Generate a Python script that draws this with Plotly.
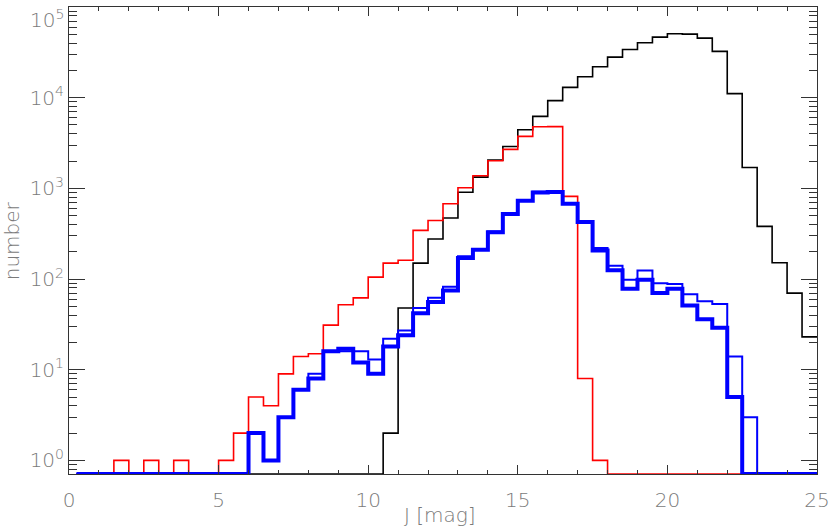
import plotly.graph_objects as go

# Histogram bins: 0.5 mag wide, centres 0.25 ... 24.75
J_CENTERS = [0.25 + 0.5 * i for i in range(50)]
J_RIGHT_EDGE = 25.0

BLACK_COUNTS = [0] * 21 + [
    2, 48, 150, 276, 471, 905, 1330, 2050, 2900, 4430,
    6220, 9290, 12980, 17000, 21900, 28000, 34000, 40300, 46600, 50700,
    50200, 45400, 32400, 11100, 1700, 381, 151, 70, 23]

RED_COUNTS = [0, 0, 0, 1, 0, 1, 0, 1, 0, 0,
              1, 2, 5, 4, 9, 14, 15, 31, 52, 62,
              105, 150, 161, 344, 443, 677, 1015, 1380, 2020, 2690,
              3740, 4790, 4800, 817, 8, 1] + [0] * 14

BLUE_THIN_COUNTS = [0] * 12 + [
    2, 1, 3, 6, 9, 16, 16, 16, 13, 22,
    27, 48, 62, 82, 178, 215, 335, 530, 745, 915,
    925, 690, 432, 220, 140, 98, 124, 90, 88, 68,
    57, 53, 14, 3] + [0] * 4

BLUE_THICK_COUNTS = [0] * 12 + [
    2, 1, 3, 6, 8, 16, 17, 12, 9, 18,
    24, 42, 56, 75, 171, 211, 328, 522, 731, 902,
    912, 677, 426, 206, 125, 78, 98, 70, 78, 51,
    36, 29, 5] + [0] * 5

Y_FLOOR = 10 ** -0.15  # empty bins are drawn on the lower axis

Y_TICKVALS = [1, 10, 100, 1000, 10000, 100000]
Y_TICKTEXT = ["10<sup>0</sup>", "10<sup>1</sup>", "10<sup>2</sup>",
              "10<sup>3</sup>", "10<sup>4</sup>", "10<sup>5</sup>"]
X_TICKVALS = [0, 5, 10, 15, 20, 25]
X_TITLE = "J [mag]"
Y_TITLE = "number"


def steps(counts):
    xs = J_CENTERS + [J_RIGHT_EDGE]
    ys = [max(c, Y_FLOOR) for c in counts]
    ys = ys + [ys[-1]]
    return xs, ys


fig = go.Figure()
series = [
    (BLACK_COUNTS, "#000000", 1.6),
    (RED_COUNTS, "#ff0000", 1.6),
    (BLUE_THIN_COUNTS, "#0000ff", 2.0),
    (BLUE_THICK_COUNTS, "#0000ff", 4.0),
]
for counts, color, width in series:
    xs, ys = steps(counts)
    fig.add_trace(go.Scatter(x=xs, y=ys, mode="lines",
                             line=dict(color=color, width=width, shape="hvh"),
                             showlegend=False, hoverinfo="skip"))

TXT = "#7a7a7a"
AX = "#333333"
FONT = "DejaVu Sans"
TF = dict(family=FONT, size=20, color=TXT, weight=200)

# the top decade label sits just under the frame top (as in the reference)
tick_text_axis = Y_TICKTEXT[:-1] + [""]

fig.update_layout(
    width=830, height=530,
    margin=dict(l=69, r=13, t=7, b=56, autoexpand=False),
    paper_bgcolor="white", plot_bgcolor="white",
    font=TF,
    annotations=[
        dict(text=X_TITLE, xref="paper", yref="paper", x=0.496, y=-0.088,
             xanchor="center", yanchor="middle", showarrow=False, font=TF),
        dict(text=Y_TITLE, xref="paper", yref="paper", x=-0.0765, y=0.50,
             xanchor="center", yanchor="middle", showarrow=False, textangle=-90,
             font=TF),
        dict(text=Y_TICKTEXT[-1], xref="paper", yref="y", x=0, y=5,
             xanchor="right", yanchor="top", xshift=-3, yshift=3,
             showarrow=False, font=TF),
    ],
)
fig.update_xaxes(
    range=[0, 25], tickvals=X_TICKVALS, ticks="inside", ticklen=9, tickwidth=1,
    tickcolor=AX, showline=True, linecolor=AX, linewidth=1, mirror="allticks",
    showgrid=False, zeroline=False, automargin=False, ticklabelstandoff=8,
    ticklabeloverflow="allow",
    minor=dict(dtick=1, ticks="inside", ticklen=4, tickcolor=AX, showgrid=False),
    tickfont=TF,
)
fig.update_yaxes(
    type="log", range=[-0.15, 5.0002], tickvals=Y_TICKVALS, ticktext=tick_text_axis,
    ticks="inside", ticklen=16, tickwidth=1, tickcolor=AX,
    showline=True, linecolor=AX, linewidth=1, mirror="allticks",
    showgrid=False, zeroline=False, automargin=False, ticklabeloverflow="allow",
    minor=dict(dtick="D1", ticks="inside", ticklen=8, tickcolor=AX, showgrid=False),
    tickfont=TF,
)
fig.write_html("out.html",
               config={"displayModeBar": False},
               post_script="document.body.style.margin='0';")
